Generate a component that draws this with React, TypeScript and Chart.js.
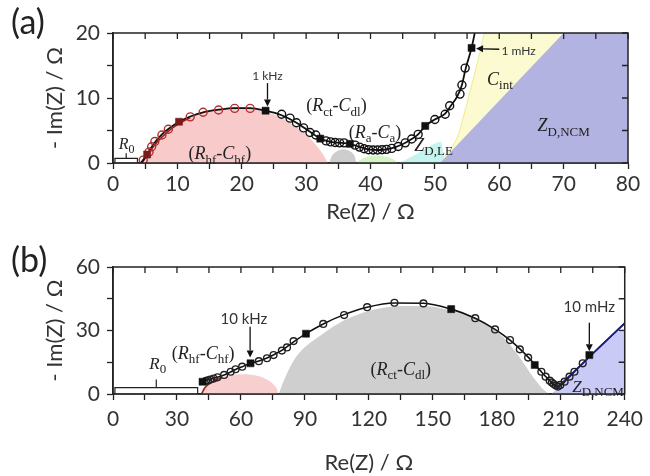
import React, { useEffect, useRef } from 'react';
import { Chart, registerables } from 'chart.js';

Chart.register(...registerables);

const SANS = "Lato, 'Open Sans', sans-serif";
const SERIF = "'Liberation Serif', 'DejaVu Serif', serif";

type XY = [number, number];
const pts = (a: XY[]) => a.map(([x, y]) => ({ x, y }));

// ---------------- Panel (a): Re(Z) 0–80 Ω, -Im(Z) 0–20 Ω ----------------
const aXLabels = [0, 10, 20, 30, 40, 50, 60, 70, 80];
const aYLabels = [0, 10, 20];

const aCircles: XY[] = [
  [4.7, 0.45], [5.6, 1.7], [6.0, 2.5], [6.5, 3.3], [7.6, 4.3], [8.6, 5.2], [12.0, 7.1], [14.0, 7.8],
  [16.4, 8.15], [18.9, 8.4], [21.3, 8.4], [26.2, 7.5], [27.5, 6.9], [28.5, 6.2], [29.6, 5.4], [30.6, 4.7],
  [31.5, 4.3], [33.1, 3.4], [33.8, 3.25], [34.5, 3.15], [35.2, 3.1], [35.9, 3.1], [37.6, 2.75], [38.3, 2.45],
  [39.0, 2.2], [39.7, 2.05], [40.4, 2.0], [41.1, 2.0], [41.8, 2.05], [42.5, 2.1], [43.3, 2.25], [44.3, 2.55],
  [45.4, 3.1], [46.4, 3.7], [47.4, 4.4], [50.0, 6.7], [51.6, 7.5], [52.3, 8.8], [53.9, 10.6], [54.2, 12.0],
  [54.7, 14.6],
];
const aSquares: XY[] = [[5.3, 1.3], [10.25, 6.35], [23.7, 8.05], [32.2, 3.75], [36.8, 2.95], [48.5, 5.7], [55.7, 17.7]];
const aFit: XY[] = [
  [4.3, 0], [4.8, 0.6], [5.3, 1.3], [5.9, 2.3], [6.6, 3.3], [7.6, 4.4], [8.7, 5.3], [10.25, 6.35], [12.0, 7.15],
  [14.0, 7.8], [16.4, 8.2], [18.9, 8.45], [21.3, 8.45], [23.7, 8.05], [26.2, 7.35], [28.5, 6.2], [30.6, 4.8],
  [32.2, 3.75], [33.8, 3.25], [35.5, 3.1], [36.8, 2.95], [38.4, 2.45], [39.9, 2.05], [41.5, 2.0], [43.2, 2.25],
  [44.8, 2.8], [46.4, 3.7], [47.4, 4.4], [48.5, 5.7], [50.0, 6.7], [51.6, 7.6], [52.4, 8.7], [53.5, 10.3],
  [54.2, 12.0], [54.8, 14.6], [55.7, 17.7], [56.4, 21.0],
];
const aPink: XY[] = [
  [4.5, 0], [5, 0.8], [6, 2.2], [7, 3.4], [8.5, 4.8], [10, 5.9], [12, 7.0], [14, 7.8], [16, 8.3], [19, 8.6],
  [22, 8.3], [24, 7.8], [26, 7.0], [28, 5.9], [30, 4.4], [31.5, 2.8], [32.5, 1.5], [33.4, 0],
];
const aGray: XY[] = [[33.6, 0], [33.9, 0.9], [34.5, 1.6], [35.2, 2.0], [35.8, 2.1], [36.4, 2.0], [37.1, 1.6], [37.6, 0.9], [37.8, 0]];
const aGreen: XY[] = [[37.8, 0], [38.6, 0.6], [39.6, 1.0], [41, 1.15], [42.4, 1.0], [43.5, 0.6], [44.3, 0]];
const aCyan: XY[] = [[44.3, 0], [45.5, 0.5], [47, 1.3], [48.5, 2.2], [50, 3.0], [51, 3.3], [51.6, 0]];
const aYellow: XY[] = [[50.3, 0], [51.5, 1], [52.7, 2.5], [53.7, 4.5], [54.4, 7], [55.2, 10], [56.1, 13.5], [57, 17], [57.8, 20], [70, 20]];
const aBlue: XY[] = [[50.8, 0], [70, 20], [80, 20]];
const aR0: [number, number] = [0.3, 3.8];

// ---------------- Panel (b): Re(Z) 0–240 Ω, -Im(Z) 0–60 Ω ----------------
const bXLabels = [0, 30, 60, 90, 120, 150, 180, 210, 240];
const bYLabels = [0, 30, 60];

const bCircles: XY[] = [
  [43.6, 6.2], [44.6, 6.5], [45.6, 6.8], [47.2, 7.3], [49, 7.9], [52.1, 9.0], [55.2, 10.5], [57.5, 11.7],
  [60.6, 12.9], [68.4, 15.5], [72.2, 16.9], [75.3, 18.4], [79.2, 20.5], [81.6, 22], [84.7, 25], [98.6, 33.1],
  [108.4, 37.3], [119.2, 41.0], [132, 43.1], [145.6, 42.8], [169.9, 35.8], [179.2, 30.5], [186.2, 25.5],
  [190.8, 21.1], [194.7, 17.2], [200.9, 10.5], [202.9, 8.2], [204.8, 6.3], [205.8, 5.4], [206.7, 4.7],
  [207.7, 4.0], [208.7, 3.5], [209.8, 4.3], [211.8, 5.8], [214.1, 8.2], [216.4, 10.5], [220.3, 14.5],
];
const bSquares: XY[] = [[42, 5.8], [64.5, 14.5], [90.5, 28.5], [158.6, 40.1], [197.8, 13.7], [223.4, 18.4]];
const bFit: XY[] = [
  [42, 5.8], [45, 6.8], [49, 7.9], [52.1, 9.0], [55.2, 10.4], [57.5, 11.6], [60.6, 12.9], [64.5, 14.5],
  [68.4, 15.6], [72.2, 17.0], [75.3, 18.5], [79.2, 20.6], [84.7, 24.6], [90.5, 28.5], [98.6, 33.1],
  [108.4, 37.5], [119.2, 41.0], [132, 43.0], [145.6, 42.9], [158.6, 40.1], [169.9, 35.8], [179.2, 30.5],
  [186.2, 25.4], [190.8, 21.3], [194.7, 17.4], [197.8, 13.9], [200.9, 10.5], [202.9, 8.3], [204.8, 6.3],
  [206.7, 4.6], [208.7, 3.3], [210.5, 4.5], [214.1, 8.2], [216.4, 10.5], [220.3, 14.4], [223.4, 17.6], [240, 33.5],
];
const bPink: XY[] = [
  [41.5, 0], [43, 2.8], [45, 4.7], [48, 6.5], [51, 7.8], [55, 8.8], [60, 9.3], [65, 9.1], [69, 8.3],
  [72, 7.0], [75, 4.8], [76.8, 2.5], [77.7, 0],
];
const bGray: XY[] = [
  [77.7, 0], [80, 6], [84, 14.5], [87, 19], [91.6, 23.5], [95, 26], [102, 31], [110, 35.5], [120, 39.2],
  [130, 41.2], [140, 41.6], [150, 41.2], [158.6, 39.3], [170, 35.5], [180, 29.5], [186, 23.5], [192, 15.5],
  [197, 8], [201, 3], [203.5, 0.8], [204.5, 0],
];
const bBlueFill: XY[] = [[205.5, 0], [208.6, 2.7], [236.5, 29.4], [240, 29.4]];
const bBlueLine: XY[] = [[207.8, 2.5], [240, 33.4]];
const bR0: [number, number] = [0.9, 39.7];

// ---------------- drawing helpers ----------------
type Seg = { t: string; it?: boolean; sub?: boolean };
const N = (t: string): Seg => ({ t });
const I = (t: string): Seg => ({ t, it: true });
const S = (t: string): Seg => ({ t, sub: true });

interface Note { segs: Seg[]; at: XY; size: number; sans?: boolean }
interface Arrow { from: XY; to: XY }
interface Bracket { span: [number, number]; top: number; tick: number }

interface PanelDef {
  letter: string;
  xMax: number; xStep: number; xLabels: number[];
  yMax: number; yStep: number; yLabels: number[];
  padTop: number; padRight: number; xAxisHeight: number; xTickPad: number; xTitlePad: number;
  datasets: any[];
  notes: Note[]; arrows: Arrow[]; bracket: Bracket;
}

function drawRich(ctx: CanvasRenderingContext2D, segs: Seg[], cx: number, cy: number, size: number, sans?: boolean) {
  const fam = sans ? SANS : SERIF;
  const sub = Math.round(size * 0.74);
  const font = (s: Seg) => `${s.it ? 'italic ' : ''}${s.sub ? sub : size}px ${fam}`;
  let w = 0;
  for (const s of segs) { ctx.font = font(s); w += ctx.measureText(s.t).width; }
  let x = cx - w / 2;
  const base = cy + size * 0.34;
  ctx.textAlign = 'left';
  ctx.textBaseline = 'alphabetic';
  for (const s of segs) {
    ctx.font = font(s);
    ctx.fillText(s.t, x, s.sub ? base + size * 0.24 : base);
    x += ctx.measureText(s.t).width;
  }
}

function drawArrow(ctx: CanvasRenderingContext2D, x1: number, y1: number, x2: number, y2: number) {
  const a = Math.atan2(y2 - y1, x2 - x1);
  const L = 7, W = 3.5;
  const c = Math.cos(a), s = Math.sin(a);
  ctx.beginPath();
  ctx.moveTo(x1, y1);
  ctx.lineTo(x2 - L * c, y2 - L * s);
  ctx.stroke();
  ctx.beginPath();
  ctx.moveTo(x2, y2);
  ctx.lineTo(x2 - L * c + W * s, y2 - L * s - W * c);
  ctx.lineTo(x2 - L * c - W * s, y2 - L * s + W * c);
  ctx.closePath();
  ctx.fill();
}

const overlay = (p: PanelDef) => ({
  id: 'overlay',
  afterDatasetsDraw(chart: any) {
    const { ctx, chartArea: ca, scales } = chart;
    const xs = scales.x, ys = scales.y;
    const px = (v: number) => xs.getPixelForValue(v);
    const py = (v: number) => ys.getPixelForValue(v);
    ctx.save();

    // R0 bracket
    const { span, top, tick } = p.bracket;
    const bx0 = px(span[0]), bx1 = px(span[1]), bt = py(top), bb = py(0) - 0.5;
    ctx.fillStyle = '#fff';
    ctx.fillRect(bx0, bt, bx1 - bx0, bb - bt);
    ctx.strokeStyle = '#222';
    ctx.lineWidth = 1.2;
    ctx.beginPath();
    ctx.moveTo(bx0, bb); ctx.lineTo(bx0, bt); ctx.lineTo(bx1, bt); ctx.lineTo(bx1, bb);
    const bm = (bx0 + bx1) / 2;
    ctx.moveTo(bm, bt); ctx.lineTo(bm, py(tick));
    ctx.stroke();

    // frame and mirrored inward ticks
    ctx.strokeStyle = '#222';
    ctx.lineWidth = 1.5;
    ctx.strokeRect(ca.left, ca.top, ca.right - ca.left, ca.bottom - ca.top);
    ctx.lineWidth = 1.3;
    ctx.beginPath();
    for (const t of xs.ticks) { const x = px(t.value); ctx.moveTo(x, ca.top); ctx.lineTo(x, ca.top + 6); }
    for (const t of ys.ticks) { const y = py(t.value); ctx.moveTo(ca.right, y); ctx.lineTo(ca.right - 6, y); }
    ctx.stroke();

    // arrows
    ctx.strokeStyle = '#111';
    ctx.fillStyle = '#111';
    ctx.lineWidth = 1.3;
    for (const a of p.arrows) drawArrow(ctx, px(a.from[0]), py(a.from[1]), px(a.to[0]), py(a.to[1]));

    // annotations
    for (const n of p.notes) {
      ctx.fillStyle = n.sans ? '#333' : '#222';
      drawRich(ctx, n.segs, px(n.at[0]), py(n.at[1]), n.size, n.sans);
    }
    ctx.restore();
  },
  afterDraw(chart: any) {
    const { ctx } = chart;
    ctx.save();
    ctx.fillStyle = '#222';
    ctx.font = `34px ${SANS}`;
    ctx.textAlign = 'left';
    ctx.textBaseline = 'middle';
    ctx.fillText(p.letter, 11, 23);
    ctx.restore();
  },
});

const area = (data: XY[], color: string, order: number, mono = true, edge?: string) => ({
  data: pts(data), showLine: true, fill: 'origin', backgroundColor: color,
  borderColor: edge ?? 'rgba(0,0,0,0)', borderWidth: edge ? 1 : 0, pointRadius: 0,
  cubicInterpolationMode: mono ? 'monotone' : 'default', tension: 0, order,
});
const edgeLine = (data: XY[], color: string, width: number, order: number, mono = true) => ({
  data: pts(data), showLine: true, fill: false, borderColor: color, borderWidth: width, pointRadius: 0,
  cubicInterpolationMode: mono ? 'monotone' : 'default', tension: 0, order,
});
const circles = (data: XY[], r: number, colorOf: (x: number) => string) => ({
  data: pts(data), showLine: false, pointStyle: 'circle', pointRadius: r, pointBorderWidth: 1.4,
  pointBackgroundColor: 'rgba(0,0,0,0)', pointBorderColor: data.map(([x]) => colorOf(x)), order: 1,
});
const squares = (data: XY[], r: number, colorOf: (x: number) => string) => ({
  data: pts(data), showLine: false, pointStyle: 'rect', pointRadius: r, pointBorderWidth: 0.5,
  pointBackgroundColor: data.map(([x]) => colorOf(x)), pointBorderColor: data.map(([x]) => colorOf(x)), order: 0,
});

const panelA: PanelDef = {
  letter: '(a)',
  xMax: 80, xStep: 5, xLabels: aXLabels,
  yMax: 20, yStep: 5, yLabels: aYLabels,
  padTop: 33, padRight: 22, xAxisHeight: 75, xTickPad: 3, xTitlePad: 13,
  datasets: [
    squares(aSquares, 5, (x) => (x < 12 ? '#7a1a1a' : '#111')),
    circles(aCircles, 4, (x) => (x < 23 ? '#b03030' : '#111')),
    edgeLine(aFit, '#111', 1.8, 3),
    edgeLine(aPink.slice(0, 7), '#9b2020', 1.6, 4),
    area(aBlue, '#b3b3e2', 6, false),
    area(aCyan, '#c4f4ee', 7, false),
    area(aYellow, '#fbfad0', 8, true, '#eeec8a'),
    area(aGreen, '#d6f3c8', 9),
    area(aGray, '#cdcdcd', 10),
    area(aPink, '#f8caca', 11),
  ],
  notes: [
    { segs: [I('R'), S('0')], at: [2.1, 3.0], size: 16 },
    { segs: [N('('), I('R'), S('hf'), N('-'), I('C'), S('hf'), N(')')], at: [16.6, 1.5], size: 18 },
    { segs: [N('('), I('R'), S('ct'), N('-'), I('C'), S('dl'), N(')')], at: [34.7, 8.9], size: 18 },
    { segs: [N('('), I('R'), S('a'), N('-'), I('C'), S('a'), N(')')], at: [40.7, 4.8], size: 18 },
    { segs: [I('Z'), S('D,LE')], at: [49.8, 2.8], size: 18 },
    { segs: [I('C'), S('int')], at: [60.1, 13.0], size: 18 },
    { segs: [I('Z'), S('D,NCM')], at: [70.0, 5.8], size: 18 },
    { segs: [N('1 kHz')], at: [24.0, 13.4], size: 12, sans: true },
    { segs: [N('1 mHz')], at: [63.0, 17.3], size: 12, sans: true },
  ],
  arrows: [
    { from: [24.0, 12.3], to: [24.0, 8.7] },
    { from: [60.0, 17.5], to: [56.4, 17.6] },
  ],
  bracket: { span: aR0, top: 0.7, tick: 1.5 },
};

const panelB: PanelDef = {
  letter: '(b)',
  xMax: 240, xStep: 15, xLabels: bXLabels,
  yMax: 60, yStep: 15, yLabels: bYLabels,
  padTop: 29, padRight: 21, xAxisHeight: 82, xTickPad: 7, xTitlePad: 0,
  datasets: [
    squares(bSquares, 5, () => '#111'),
    circles(bCircles, 3.4, () => '#222'),
    edgeLine(bBlueLine, '#1c1c8c', 1.8, 2, false),
    edgeLine(bFit, '#111', 1.6, 3),
    edgeLine(bPink.slice(0, 5), '#9b2020', 1.6, 4),
    area(bBlueFill, '#cacaf6', 6, false),
    area(bGray, '#cfcfcf', 10),
    area(bPink, '#f8cfcf', 11),
  ],
  notes: [
    { segs: [I('R'), S('0')], at: [21, 14.5], size: 17 },
    { segs: [N('('), I('R'), S('hf'), N('-'), I('C'), S('hf'), N(')')], at: [42.3, 19.5], size: 18 },
    { segs: [N('('), I('R'), S('ct'), N('-'), I('C'), S('dl'), N(')')], at: [135, 12.1], size: 18 },
    { segs: [I('Z'), S('D,NCM')], at: [227.5, 3.6], size: 17 },
    { segs: [N('10 kHz')], at: [61.4, 35.7], size: 15, sans: true },
    { segs: [N('10 mHz')], at: [223.4, 41.0], size: 15, sans: true },
  ],
  arrows: [
    { from: [64.3, 31.8], to: [64.3, 17.2] },
    { from: [223.4, 33.7], to: [223.4, 20.2] },
  ],
  bracket: { span: bR0, top: 3.0, tick: 6.9 },
};

function buildConfig(p: PanelDef): any {
  const tickFont = { family: SANS, size: 21 };
  const titleFont = { family: SANS, size: 22 };
  return {
    type: 'scatter',
    data: { datasets: p.datasets },
    options: {
      responsive: false,
      animation: false,
      devicePixelRatio: 1,
      events: [],
      layout: { padding: { left: 0, top: p.padTop, right: p.padRight, bottom: 0 } },
      plugins: { legend: { display: false }, tooltip: { enabled: false } },
      scales: {
        x: {
          type: 'linear', position: 'bottom', min: 0, max: p.xMax,
          ticks: {
            stepSize: p.xStep, autoSkip: false, maxRotation: 0, color: '#333', font: tickFont, padding: p.xTickPad,
            callback: (v: number) => (p.xLabels.includes(v) ? String(v) : ''),
          },
          grid: { drawOnChartArea: false, drawTicks: true, tickLength: 6, tickColor: '#222', tickWidth: 1.3 },
          border: { display: true, color: '#222', width: 1.5 },
          title: { display: true, text: 'Re(Z) / Ω', color: '#333', font: titleFont, padding: { top: 0, bottom: p.xTitlePad } },
          afterFit: (s: any) => { s.height = p.xAxisHeight; },
        },
        y: {
          type: 'linear', position: 'left', min: 0, max: p.yMax,
          ticks: {
            stepSize: p.yStep, autoSkip: false, color: '#333', font: tickFont, padding: 7,
            callback: (v: number) => (p.yLabels.includes(v) ? String(v) : ''),
          },
          grid: { drawOnChartArea: false, drawTicks: true, tickLength: 6, tickColor: '#222', tickWidth: 1.3 },
          border: { display: true, color: '#222', width: 1.5 },
          title: { display: true, text: '- Im(Z) / Ω', color: '#333', font: titleFont, padding: { top: 42, bottom: 0 } },
          afterFit: (s: any) => { s.width = 113; },
        },
      },
    },
    plugins: [overlay(p)],
  };
}

export default function App() {
  const refA = useRef<HTMLCanvasElement>(null);
  const refB = useRef<HTMLCanvasElement>(null);
  useEffect(() => {
    const a = new Chart(refA.current as HTMLCanvasElement, buildConfig(panelA));
    const b = new Chart(refB.current as HTMLCanvasElement, buildConfig(panelB));
    return () => { a.destroy(); b.destroy(); };
  }, []);
  return (
    <div style={{ position: 'fixed', left: 0, top: 0, width: 650, height: 476, background: '#fff' }}>
      <canvas ref={refA} width={650} height={238} style={{ display: 'block', width: 650, height: 238 }} />
      <canvas ref={refB} width={650} height={238} style={{ display: 'block', width: 650, height: 238 }} />
    </div>
  );
}
